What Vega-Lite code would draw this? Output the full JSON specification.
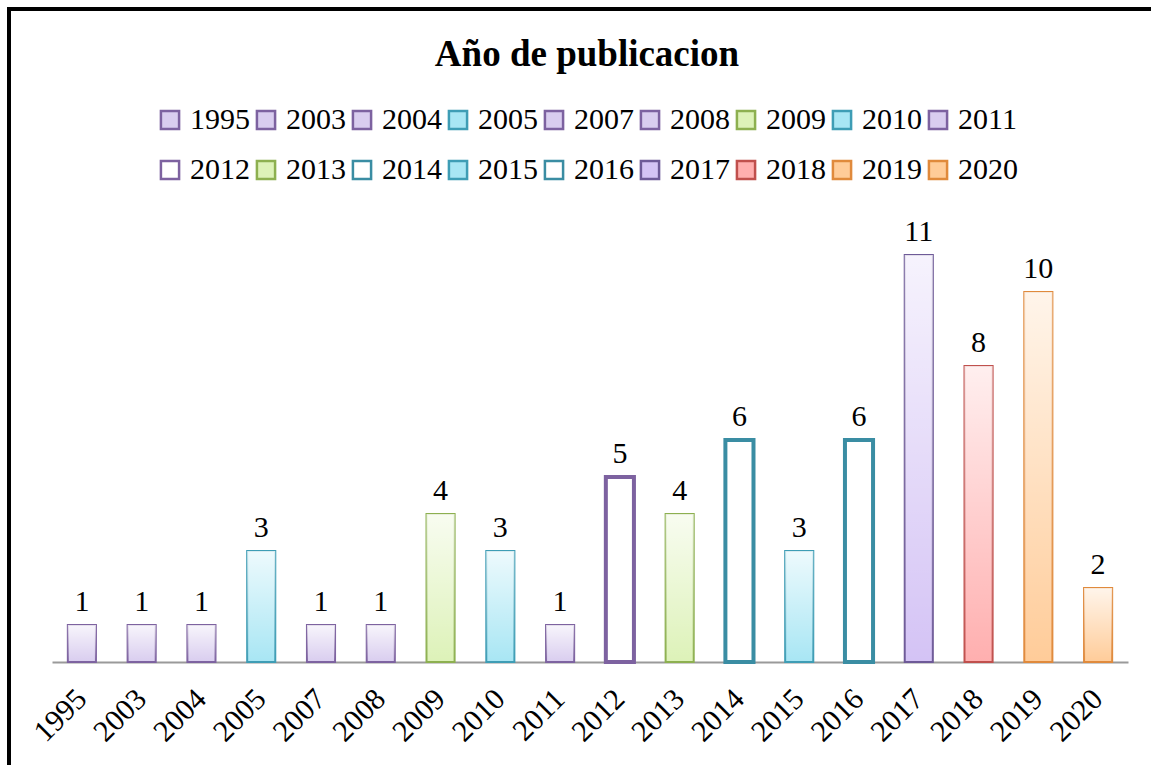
{
  "$schema": "https://vega.github.io/schema/vega-lite/v6.json",
  "width": 1163,
  "height": 782,
  "autosize": {"type": "none"},
  "padding": {"left": 9, "top": 9, "right": -21, "bottom": -26},
  "background": "white",
  "config": {
    "view": {"stroke": "black", "strokeWidth": 4}
  },
  "data": {
    "values": [
      {"year": "1995", "count": 1},
      {"year": "2003", "count": 1},
      {"year": "2004", "count": 1},
      {"year": "2005", "count": 3},
      {"year": "2007", "count": 1},
      {"year": "2008", "count": 1},
      {"year": "2009", "count": 4},
      {"year": "2010", "count": 3},
      {"year": "2011", "count": 1},
      {"year": "2012", "count": 5},
      {"year": "2013", "count": 4},
      {"year": "2014", "count": 6},
      {"year": "2015", "count": 3},
      {"year": "2016", "count": 6},
      {"year": "2017", "count": 11},
      {"year": "2018", "count": 8},
      {"year": "2019", "count": 10},
      {"year": "2020", "count": 2}
    ]
  },
  "encoding": {
    "x": {
      "field": "year",
      "type": "nominal",
      "sort": null,
      "scale": {"range": [43, 1119], "paddingInner": 0.53, "paddingOuter": 0.265},
      "axis": {
        "title": null,
        "orient": "bottom",
        "offset": -129,
        "labelAngle": -45,
        "labelAlign": "right",
        "labelBaseline": "middle",
        "labelFont": "Liberation Serif",
        "labelFontSize": 30,
        "labelColor": "black",
        "labelPadding": 32,
        "ticks": false,
        "tickSize": 0,
        "domainColor": "#9a9a9a",
        "domainWidth": 2,
        "grid": false
      }
    },
    "y": {
      "field": "count",
      "type": "quantitative",
      "scale": {"domain": [0, 12], "range": [653, 209]},
      "axis": null
    }
  },
  "layer": [
    {
      "mark": {"type": "bar"},
      "encoding": {
        "fill": {
          "field": "year",
          "type": "nominal",
          "title": "Año de publicacion",
          "scale": {
            "domain": ["1995","2003","2004","2005","2007","2008","2009","2010","2011","2012","2013","2014","2015","2016","2017","2018","2019","2020"],
            "range": ["#D9CDEF","#D9CDEF","#D9CDEF","#A8E6F4","#D9CDEF","#D9CDEF","#DDF2B8","#A8E6F4","#D9CDEF","#FFFFFF","#DDF2B8","#FFFFFF","#A8E6F4","#FFFFFF","#D4C3F5","#FFAFAF","#FFCC99","#FFCC99"]
          },
          "legend": {
            "orient": "none",
            "legendX": 146,
            "legendY": 28,
            "columns": 9,
            "direction": "horizontal",
            "symbolType": "square",
            "symbolSize": 330,
            "symbolStrokeWidth": 2.5,
            "labelFont": "Liberation Serif",
            "labelFontSize": 30,
            "labelColor": "black",
            "labelOffset": 5,
            "columnPadding": 1,
            "rowPadding": 20,
            "titleFont": "Liberation Serif",
            "titleFontSize": 37,
            "titleFontWeight": "bold",
            "titleColor": "black",
            "titleAnchor": "middle",
            "titlePadding": 31,
            "titleLimit": 800,
            "padding": 0
          }
        },
        "stroke": {
          "field": "year",
          "type": "nominal",
          "title": "Año de publicacion",
          "scale": {
            "domain": ["1995","2003","2004","2005","2007","2008","2009","2010","2011","2012","2013","2014","2015","2016","2017","2018","2019","2020"],
            "range": ["#7D62A0","#7D62A0","#7D62A0","#3E9DB5","#7D62A0","#7D62A0","#8DB050","#3E9DB5","#7D62A0","#7D62A0","#8DB050","#3A8DA3","#3E9DB5","#3A8DA3","#6E5A98","#C0504D","#E08A3C","#E08A3C"]
          }
        },
        "strokeWidth": {
          "condition": {"test": "indexof(['2012','2014','2016'], datum.year) >= 0", "value": 4},
          "value": 2
        }
      }
    },
    {
      "transform": [{"filter": "indexof(['2012','2014','2016'], datum.year) < 0"}],
      "mark": {
        "type": "bar",
        "stroke": null,
        "fill": {
          "gradient": "linear",
          "x1": 0, "y1": 0, "x2": 0, "y2": 1,
          "stops": [
            {"offset": 0, "color": "rgba(255,255,255,0.8)"},
            {"offset": 1, "color": "rgba(255,255,255,0)"}
          ]
        }
      }
    },
    {
      "mark": {
        "type": "text",
        "font": "Liberation Serif",
        "fontSize": 30,
        "color": "black",
        "baseline": "alphabetic",
        "dy": -14
      },
      "encoding": {"text": {"field": "count", "type": "quantitative"}}
    }
  ]
}
